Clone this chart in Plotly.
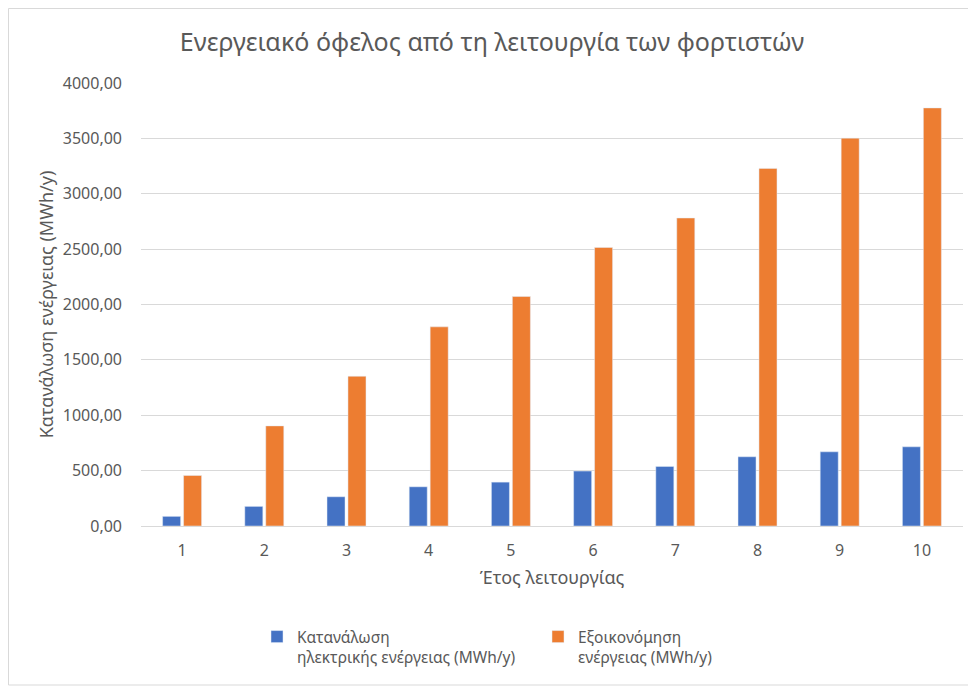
import plotly.graph_objects as go

years = ["1", "2", "3", "4", "5", "6", "7", "8", "9", "10"]
consumption = [87, 177, 264, 354, 396, 496, 538, 625, 670, 715]
savings = [456, 904, 1352, 1798, 2072, 2515, 2781, 3229, 3502, 3775]

series_names = ["Κατανάλωση<br>ηλεκτρικής ενέργειας (MWh/y)",
                "Εξοικονόμηση<br>ενέργειας (MWh/y)"]
title_text = "Ενεργειακό όφελος από τη λειτουργία των φορτιστών"
x_title = "Έτος λειτουργίας"
y_title = "Κατανάλωση ενέργειας (MWh/y)"
y_ticks = [0, 500, 1000, 1500, 2000, 2500, 3000, 3500, 4000]

FONT = "Noto Sans"
GRAY = "#595959"

fig = go.Figure()
fig.add_trace(go.Bar(x=years, y=consumption, name=series_names[0],
                     marker_color="#4472C4", legend="legend"))
fig.add_trace(go.Bar(x=years, y=savings, name=series_names[1],
                     marker_color="#ED7D31", legend="legend2"))

# page body has an 8px margin, so the figure is 8px smaller than the window
W, H = 968, 679
L, R, T, B = 133, 13, 75, 161
pw, ph = W - L - R, H - T - B

def px_x(p):
    return (p - L) / pw

def px_y(p):
    return (H - B - p) / ph

fig.update_layout(
    width=W, height=H,
    margin=dict(l=L, r=R, t=T, b=B, autoexpand=False),
    paper_bgcolor="white", plot_bgcolor="white",
    separators=",.",
    font=dict(family=FONT, color=GRAY),
    title=dict(text=title_text, x=0.5, xanchor="center", xref="container",
               y=1 - 34 / H, yanchor="middle", yref="container",
               font=dict(family=FONT, size=25, color=GRAY)),
    barmode="group", bargap=0.49, bargroupgap=0.14,
    xaxis=dict(showgrid=False, showline=False, ticks="",
               ticklabelstandoff=13,
               tickfont=dict(size=16, color=GRAY),
               title=dict(text=x_title, font=dict(size=18, color=GRAY), standoff=11)),
    yaxis=dict(range=[0, 4000], tickvals=y_ticks, tickformat=".2f",
               showgrid=True, gridcolor="#d9d9d9", gridwidth=1,
               zeroline=True, zerolinecolor="#d9d9d9", zerolinewidth=1,
               showline=False, ticks="", ticklabelstandoff=18,
               tickfont=dict(size=16, color=GRAY),
               title=dict(text=y_title, font=dict(size=18, color=GRAY), standoff=4)),
    showlegend=True,
    legend=dict(x=px_x(249), xanchor="left", y=px_y(612), yanchor="top",
                orientation="h", valign="top",
                font=dict(size=15.5, color=GRAY), bgcolor="rgba(0,0,0,0)"),
    legend2=dict(x=px_x(530), xanchor="left", y=px_y(612), yanchor="top",
                 orientation="h", valign="top",
                 font=dict(size=15.5, color=GRAY), bgcolor="rgba(0,0,0,0)"),
    shapes=[dict(type="rect", xref="paper", yref="paper",
                 x0=px_x(0.5), x1=px_x(990), y0=px_y(677), y1=px_y(0.5),
                 line=dict(color="#d9d9d9", width=1), fillcolor="rgba(0,0,0,0)",
                 layer="below")],
)

fig.write_html("out.html")
